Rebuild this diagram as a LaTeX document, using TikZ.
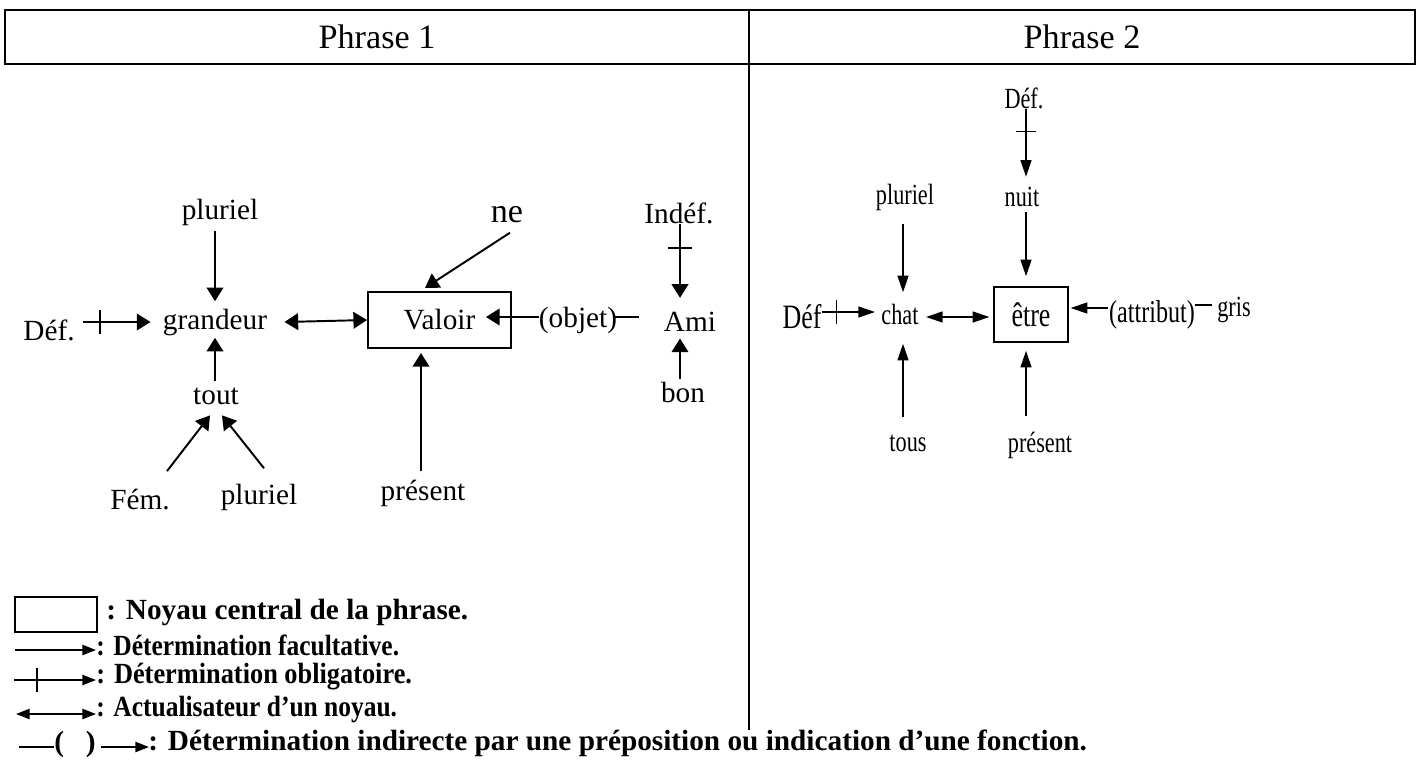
\documentclass[tikz,border=0pt]{standalone}
\usepackage{fontspec}
\setmainfont{Liberation Serif}
\usepackage{graphicx}
\usetikzlibrary{arrows.meta,calc}
% horizontally condensed lettering used in the second sentence
\newcommand\cond[1]{\scalebox{0.76}[1]{#1}}
% slightly condensed legend lines
\newcommand\legn[2]{\scalebox{#1}[1]{#2}}
\begin{document}
\begin{tikzpicture}[x=0.41pt,y=-0.41pt,
  lab/.style={inner sep=0pt,font=\fontsize{12}{14}\selectfont},
  big/.style={font=\fontsize{14}{16}\selectfont},
  head/.style={inner sep=0pt,font=\fontsize{14}{16}\selectfont},
  core/.style={draw,line width=0.8pt,inner sep=0pt,font=\fontsize{12}{14}\selectfont},
  core2/.style={draw,line width=0.6pt,inner sep=0pt,font=\fontsize{14}{16}\selectfont},
  leg/.style={inner sep=0pt,font=\fontsize{12}{14}\selectfont\bfseries},
  tipA/.tip={Triangle[length=5.6pt,width=6.8pt]},
  tipB/.tip={Triangle[length=6.8pt,width=4.5pt]},
  tipC/.tip={Triangle[length=5.6pt,width=4.2pt]},
  opt1/.style={line width=0.8pt,-tipA},
  dbl1/.style={line width=0.8pt,tipA-tipA},
  line1/.style={line width=0.8pt},
  opt2/.style={line width=0.55pt,-tipB},
  dbl2/.style={line width=0.55pt,tipB-tipB},
  line2/.style={line width=0.55pt},
  optL/.style={line width=0.7pt,-tipC},
  dblL/.style={line width=0.7pt,tipC-tipC},
  lineL/.style={line width=0.7pt},
]
\useasboundingbox (0,0) rectangle (1426,760);

% header table
\draw[line width=0.9pt] (5,10) rectangle (1415,64);
\draw[line width=0.7pt] (749,10) -- (749,730);
\node[head] (h1) at (377,37) {Phrase 1};
\node[head] (h2) at (1082,37) {Phrase 2};

% ---------------- sentence 1 ----------------
\node[lab] (p1pl) at (220,212) {pluriel};
\node[lab] (gr) at (215,322) {grandeur};
\node[lab] (def1) at (49,330) {Déf.};
\node[lab] (tout) at (216,396) {tout};
\node[lab] (fem) at (140,500) {Fém.};
\node[lab] (p1plb) at (259,497) {pluriel};
\node[core,minimum width=58.6pt,minimum height=22.6pt] (val) at (439.5,320) {Valoir\hspace{10.5pt}};
\node[lab,big] (ne) at (507,215) {ne};
\node[lab] (pres1) at (423,493) {présent};
\node[lab] (obj) at (578,320) {(objet)};
\node[lab] (ami) at (690,322) {Ami};
\node[lab] (indef) at (679,213) {Indéf.};
\node[lab] (bon) at (683,392) {bon};

\draw[opt1] ($(p1pl.south -| gr)+(0,5)$) -- ($(gr.north)+(0,-7)$);
\draw[opt1] ($(tout.north -| gr)+(0,-6)$) -- ($(gr.south)+(0,2)$);
\draw[opt1] ($(def1.east)+(8,-8)$) -- coordinate[pos=0.25] (t1) ($(gr.west)+(-12,0)$);
\draw[line1] ($(t1)+(0,-12)$) -- ($(t1)+(0,12)$);
\draw[dbl1] ($(gr.east)+(17,0)$) -- (val.west);
\draw[opt1] ($(fem.north)+(27,-18)$) -- ($(tout.south)+(-6,10.5)$);
\draw[opt1] ($(p1plb.north)+(5,-15)$) -- ($(tout.south)+(6,10.5)$);
\draw[opt1] ($(ne.south)+(3,9)$) -- ($(val.north)+(-14.5,-3.5)$);
\draw[opt1] ($(pres1.north)+(-2,-8)$) -- ($(val.south)+(-18.5,4.5)$);
\draw[opt1] ($(obj.west)+(0,-3)$) -- ($(val.east)+(-26,-3)$);
\draw[line1] ($(obj.east)+(-5,-3)$) -- ($(ami.west)+(-25,-5)$);
\draw[opt1] ($(indef.south)+(1,0)$) -- coordinate[pos=0.32] (t2) ($(ami.north)+(-10,-14)$);
\draw[line1] ($(t2)+(-12,0)$) -- ($(t2)+(12,0)$);
\draw[opt1] ($(bon.north)+(-3,-2)$) -- ($(ami.south)+(-10,6.3)$);

% ---------------- sentence 2 ----------------
\node[lab] (dtop) at (1024,98) {\cond{Déf.}};
\node[lab] (nuit) at (1022,197) {\cond{nuit}};
\node[lab] (pl2) at (905,197) {\cond{pluriel}};
\node[lab,big] (def2) at (802,317) {\cond{Déf}};
\node[lab] (chat) at (900,314) {\cond{chat}};
\node[core2,minimum width=30.3pt,minimum height=22.6pt] (etre) at (1031,314.5) {\cond{être}};
\node[lab,font=\fontsize{13}{15}\selectfont] (attr) at (1152,315) {\cond{(attribut)}};
\node[lab] (gris) at (1234,310) {\cond{gris}};
\node[lab] (tous) at (908,443) {\cond{tous}};
\node[lab] (pres2) at (1040,445) {\cond{présent}};

\draw[opt2] ($(dtop.south)+(2,0)$) -- coordinate[pos=0.33] (t3) ($(nuit.north)+(4,-10)$);
\draw[line2] ($(t3)+(-10,0)$) -- ($(t3)+(10,0)$);
\draw[opt2] ($(nuit.south)+(4,5)$) -- ($(etre.north)+(-5,-10)$);
\draw[opt2] ($(pl2.south)+(-2,13)$) -- ($(chat.north)+(3,-11)$);
\draw[opt2] ($(def2.east)+(0,-5)$) -- coordinate[pos=0.28] (t4) ($(chat.west)+(-6,-2)$);
\draw[line2] ($(t4)+(0,-12)$) -- ($(t4)+(0,12)$);
\draw[dbl2] ($(chat.east)+(7,3)$) -- ($(etre.west)+(-4,2.5)$);
\draw[opt2] ($(attr.west)+(-1,-7)$) -- ($(etre.east)+(2,-6.5)$);
\draw[line2] ($(attr.east)+(0,-10)$) -- ($(gris.west)+(-5,-5)$);
\draw[opt2] ($(tous.north)+(-5,-17.5)$) -- ($(chat.south)+(3,19)$);
\draw[opt2] ($(pres2.north)+(-14,-15)$) -- ($(etre.south)+(-5,8)$);

% ---------------- legend ----------------
\node[draw,line width=0.7pt,inner sep=0pt,minimum width=33.6pt,minimum height=14.6pt] (lk) at (56,614.5) {};
\node[leg,anchor=west] (l1) at (106,612) {: Noyau central de la phrase.};
\node[leg,anchor=west] (l2) at (96,645) {\legn{0.87}{: Détermination facultative.}};
\node[leg,anchor=west] (l3) at (96,677) {\legn{0.9}{: Détermination obligatoire.}};
\node[leg,anchor=west] (l4) at (96,709) {\legn{0.87}{: Actualisateur d’un noyau.}};
\node[leg,anchor=west] (l5) at (148,743) {: Détermination indirecte par une préposition ou indication d’une fonction.};
\node[leg] (lp) at (75,744) {(\hspace{9pt})};

\coordinate (s2) at (15,650);
\coordinate (s3) at (14,680);
\coordinate (s4) at (16,714);
\coordinate (s5) at (19,747);
\draw[optL] (s2) -- (s2 -| l2.west);
\draw[optL] (s3) -- coordinate[pos=0.28] (t5) (s3 -| l3.west);
\draw[lineL] ($(t5)+(0,-12)$) -- ($(t5)+(0,12)$);
\draw[dblL] (s4) -- (s4 -| l4.west);
\draw[lineL] (s5) -- (s5 -| lp.west);
\draw[optL] ($(lp.east)+(5,3)$) -- ($(l5.west)+(1,4)$);
\end{tikzpicture}
\end{document}
